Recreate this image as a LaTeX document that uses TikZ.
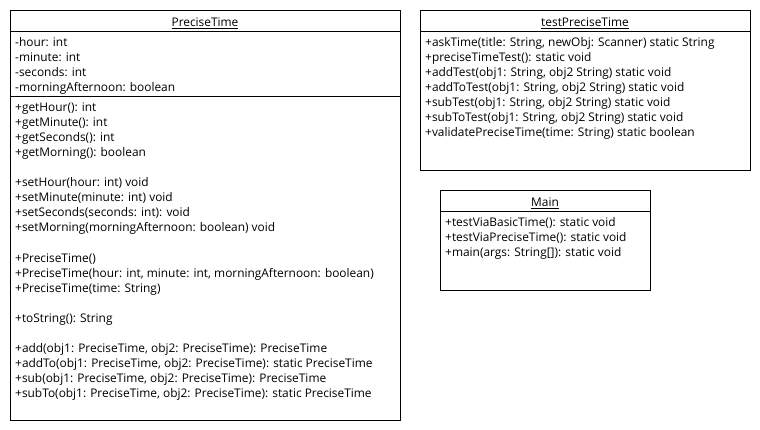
\documentclass[tikz,border=0pt]{standalone}
\usepackage{fontspec}
\setmainfont{Open Sans}
\begin{document}
\begin{tikzpicture}[x=1pt,y=-1pt,
  box/.style={draw=black, line width=1pt, inner sep=0pt, anchor=north west},
  sep/.style={draw=black, line width=1pt},
  txt/.style={anchor=base west, inner sep=0pt, font=\fontsize{11.9}{13}\selectfont},
  ttl/.style={anchor=base, inner sep=0pt, font=\fontsize{11.9}{13}\selectfont}]
\useasboundingbox (0,0) rectangle (760,430);

% PreciseTime
\node[box, minimum width=390pt, minimum height=410pt] (pt) at (10,10) {};
\draw[sep] (10,32) -- (400,32);
\draw[sep] (10,97) -- (400,97);
\node[ttl] (ptt) at (205,26.5) {\underline{PreciseTime}};
\foreach \n/\y/\t in {1/47/{-hour: int}, 2/62/{-minute: int}, 3/77/{-seconds: int}, 4/92/{-morningAfternoon: boolean}}
  \node[txt] (pa\n) at (15,\y) {\t};
\foreach \n/\y/\t in {
  1/112/{+getHour(): int},
  2/127/{+getMinute(): int},
  3/142/{+getSeconds(): int},
  4/157/{+getMorning(): boolean},
  5/187/{+setHour(hour: int) void},
  6/202/{+setMinute(minute: int) void},
  7/217/{+setSeconds(seconds: int): void},
  8/232/{+setMorning(morningAfternoon: boolean) void},
  9/262/{+PreciseTime()},
  10/277/{+PreciseTime(hour: int, minute: int, morningAfternoon: boolean)},
  11/292/{+PreciseTime(time: String)},
  12/322/{+toString(): String},
  13/352/{+add(obj1: PreciseTime, obj2: PreciseTime): PreciseTime},
  14/367/{+addTo(obj1: PreciseTime, obj2: PreciseTime): static PreciseTime},
  15/382/{+sub(obj1: PreciseTime, obj2: PreciseTime): PreciseTime},
  16/397/{+subTo(obj1: PreciseTime, obj2: PreciseTime): static PreciseTime}}
  \node[txt] (pm\n) at (15,\y) {\t};

% testPreciseTime
\node[box, minimum width=330pt, minimum height=160pt] (tp) at (420,10) {};
\draw[sep] (420,32) -- (750,32);
\node[ttl] (tpt) at (585,26.5) {\underline{testPreciseTime}};
\foreach \n/\y/\t in {
  1/47/{+askTime(title: String, newObj: Scanner) static String},
  2/62/{+preciseTimeTest(): static void},
  3/77/{+addTest(obj1: String, obj2 String) static void},
  4/92/{+addToTest(obj1: String, obj2 String) static void},
  5/107/{+subTest(obj1: String, obj2 String) static void},
  6/122/{+subToTest(obj1: String, obj2 String) static void},
  7/137/{+validatePreciseTime(time: String) static boolean}}
  \node[txt] (tm\n) at (425,\y) {\t};

% Main
\node[box, minimum width=210pt, minimum height=100pt] (mn) at (440,190) {};
\draw[sep] (440,212) -- (650,212);
\node[ttl] (mnt) at (545,206.5) {\underline{Main}};
\foreach \n/\y/\t in {
  1/227/{+testViaBasicTime(): static void},
  2/242/{+testViaPreciseTime(): static void},
  3/257/{+main(args: String[]): static void}}
  \node[txt] (mm\n) at (445,\y) {\t};
\end{tikzpicture}
\end{document}
